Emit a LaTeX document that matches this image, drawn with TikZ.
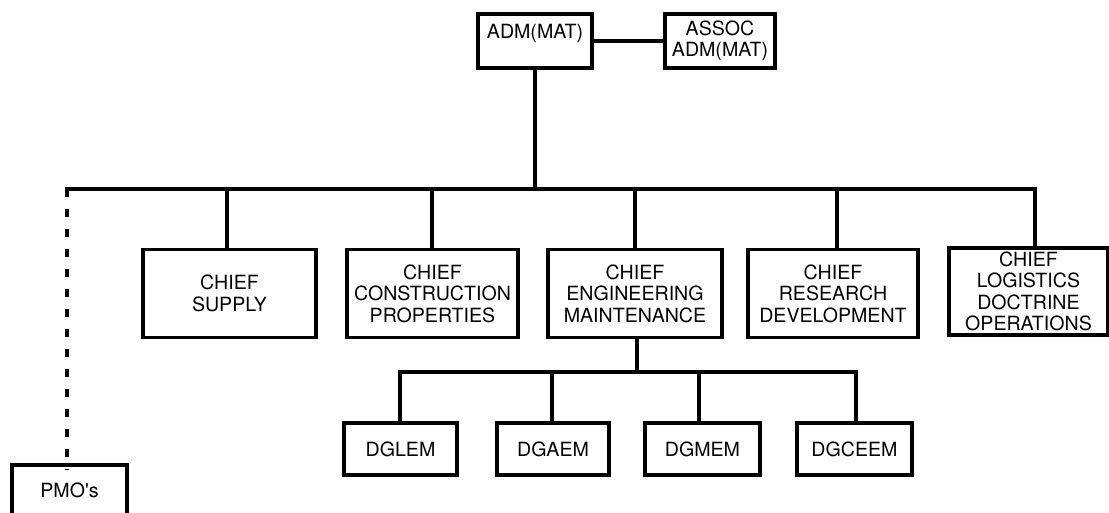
\documentclass[tikz,border=0pt]{standalone}
\usepackage{fontspec}
\newfontfamily\boxfont{TeX Gyre Heros}
\begin{document}
\begin{tikzpicture}[x=1pt,y=-1pt,
  box/.style={draw, line width=3.2pt, inner sep=0pt, align=center,
    font=\boxfont\fontsize{19.6}{21.5}\selectfont},
  link/.style={line width=3.1pt},
  dotlink/.style={line width=3.2pt, dash pattern=on 8pt off 12pt}]
\useasboundingbox (0,0) rectangle (1109,512);
\clip (0,0) rectangle (1109,512);
% top level
\node[box, minimum width=114pt, minimum height=54pt] (adm) at (535,41) {ADM(MAT)\\[-3pt]\mbox{}};
\node[box, minimum width=110pt, minimum height=54pt] (assoc) at (720,41) {ASSOC\\ADM(MAT)};
% chiefs
\node[box, minimum width=173pt, minimum height=88pt] (supply) at (229.5,293.5) {CHIEF\\SUPPLY};
\node[box, minimum width=171pt, minimum height=88pt] (constr) at (432.5,293.5) {CHIEF\\CONSTRUCTION\\PROPERTIES};
\node[box, minimum width=174pt, minimum height=88pt] (eng) at (635,293.5) {CHIEF\\ENGINEERING\\MAINTENANCE};
\node[box, minimum width=170pt, minimum height=88pt] (res) at (833,293.5) {CHIEF\\RESEARCH\\DEVELOPMENT};
\node[box, minimum width=159pt, minimum height=87pt] (logi) at (1028.5,291.5) {CHIEF\\LOGISTICS\\DOCTRINE\\OPERATIONS};
% directorates
\node[box, minimum width=113pt, minimum height=52pt] (dglem) at (400.5,449) {DGLEM};
\node[box, minimum width=112pt, minimum height=52pt] (dgaem) at (553,449) {DGAEM};
\node[box, minimum width=115pt, minimum height=52pt] (dgmem) at (702.5,449) {DGMEM};
\node[box, minimum width=115pt, minimum height=52pt] (dgceem) at (854.5,449) {DGCEEM};
% PMO
\node[box, minimum width=115pt, minimum height=50pt] (pmo) at (69.5,490) {PMO's};
% bus coordinates
\coordinate (busL) at (67,189);
\coordinate (busR) at (1035,189);
\coordinate (d1) at (227,189);
\coordinate (d2) at (432,189);
\coordinate (d3) at (635,189);
\coordinate (d4) at (837,189);
\coordinate (s0) at (637,372);
\coordinate (s1) at (400,372);
\coordinate (s2) at (552,372);
\coordinate (s3) at (699,372);
\coordinate (s4) at (856,372);
% connectors
\draw[link] (adm.east) -- (assoc.west);
\draw[link] (adm.south) -- (adm.south |- busL);
\draw[link, line cap=rect] (busL) -- (busR);
\draw[link] (d1) -- (d1 |- supply.north);
\draw[link] (d2) -- (d2 |- constr.north);
\draw[link] (d3) -- (d3 |- eng.north);
\draw[link] (d4) -- (d4 |- res.north);
\draw[link] (busR) -- (busR |- logi.north);
\draw[link] (s0 |- eng.south) -- (s0);
\draw[link, line cap=rect] (s1) -- (s4);
\draw[link] (s1) -- (s1 |- dglem.north);
\draw[link] (s2) -- (s2 |- dgaem.north);
\draw[link] (s3) -- (s3 |- dgmem.north);
\draw[link] (s4) -- (s4 |- dgceem.north);
\draw[dotlink] (busL) -- ([yshift=-7pt]busL |- pmo.north);
\end{tikzpicture}
\end{document}
